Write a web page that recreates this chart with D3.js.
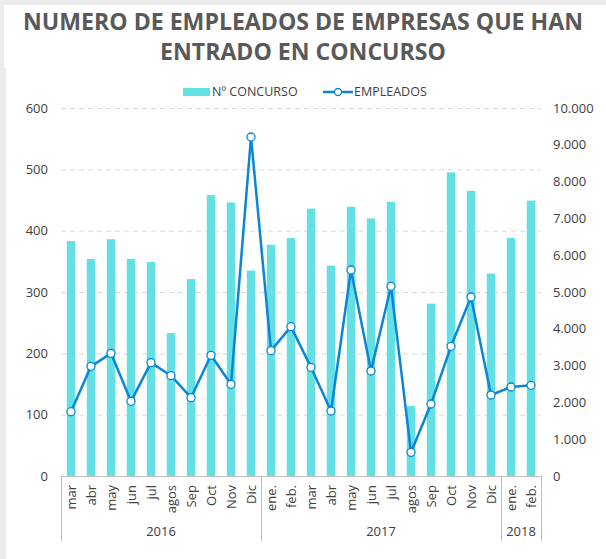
<!DOCTYPE html>
<html><head><meta charset="utf-8">
<script src="https://cdn.jsdelivr.net/npm/d3@7"></script>
<style>body{margin:0;background:#ebebeb;}svg{display:block;font-family:"Open Sans",sans-serif;}</style>
</head><body><svg id="c" width="606" height="559"></svg>
<script>
const months = ["mar","abr","may","jun","jul","agos","Sep","Oct","Nov","Dic",
  "ene.","feb.","mar","abr","may","jun","jul","agos","Sep","Oct","Nov","Dic",
  "ene.","feb."];
const years = [{label:"2016",count:10},{label:"2017",count:12},{label:"2018",count:2}];
const concursos = [383,354,386,354,349,233,321,458,446,335,
  377,388,436,343,439,420,447,114,281,495,465,330,388,449];
const empleados = [1747,2980,3333,2029,3080,2726,2128,3279,2491,9212,
  3406,4058,2953,1766,5598,2853,5154,643,1957,3524,4864,2201,2418,2465];
const leftTicks = [0,100,200,300,400,500,600];
const rightTicks = [0,1000,2000,3000,4000,5000,6000,7000,8000,9000,10000];

const svg = d3.select("#c");
const W=606,H=559;
const m={l:61,r:541,t:108,b:476};
const barColor="#62e0e3", lineColor="#0a86d6", txt="#595959", lab="#404040";

svg.append("rect").attr("x",0).attr("y",0).attr("width",W).attr("height",H).attr("fill","#ebebeb");
svg.append("rect").attr("x",4).attr("y",5).attr("width",602).attr("height",63).attr("fill","#fff");
svg.append("rect").attr("x",6).attr("y",68).attr("width",600).attr("height",491).attr("fill","#fff");

// title
const tl = ["NUMERO DE EMPLEADOS DE EMPRESAS QUE HAN","ENTRADO EN CONCURSO"];
const t1 = svg.append("text").attr("x",303).attr("y",29.5).attr("text-anchor","middle")
  .attr("font-size",22).attr("font-weight","bold").attr("fill",txt).text(tl[0]);
const w1 = t1.node().getComputedTextLength();
const fs = 22*560/w1;
t1.attr("font-size",fs);
svg.append("text").attr("x",303).attr("y",60).attr("text-anchor","middle")
  .attr("font-size",fs).attr("font-weight","bold").attr("fill",txt).text(tl[1]);

const x = d3.scaleBand().domain(d3.range(months.length)).range([m.l,m.r]).paddingInner(0.58).paddingOuter(0.29);
const yL = d3.scaleLinear().domain([0,600]).range([m.b,m.t]);
const yR = d3.scaleLinear().domain([0,10000]).range([m.b,m.t]);
const xc = i => x(i)+x.bandwidth()/2;

// grid
svg.append("g").selectAll("line").data(leftTicks.filter(d=>d>0)).join("line")
  .attr("x1",m.l).attr("x2",m.r).attr("y1",d=>yL(d)+0.5).attr("y2",d=>yL(d)+0.5)
  .attr("stroke","#d9d9d9").attr("stroke-width",1).attr("stroke-dasharray","5,4");

// axis labels
const fmt = d3.formatLocale({decimal:",",thousands:".",grouping:[3],currency:["",""]}).format(",d");
svg.append("g").selectAll("text").data(leftTicks).join("text")
  .attr("x",48).attr("y",d=>yL(d)).attr("dy","0.35em").attr("text-anchor","end")
  .attr("font-size",13).attr("fill",lab).text(d=>d);
svg.append("g").selectAll("text").data(rightTicks).join("text")
  .attr("x",553).attr("y",d=>yR(d)).attr("dy","0.35em").attr("text-anchor","start")
  .attr("font-size",13).attr("fill",lab).text(d=>fmt(d));

// bars
svg.append("g").selectAll("rect").data(concursos).join("rect")
  .attr("x",(d,i)=>x(i)).attr("width",x.bandwidth())
  .attr("y",d=>yL(d)).attr("height",d=>yL(0)-yL(d)).attr("fill",barColor);

// x axis
const ax = svg.append("g").attr("stroke","#bfbfbf").attr("stroke-width",1);
ax.append("line").attr("x1",m.l).attr("x2",m.r).attr("y1",m.b+0.5).attr("y2",m.b+0.5);
let acc=0; const bounds=[0];
years.forEach(y=>{acc+=y.count;bounds.push(acc);});
const step = x.step();
const bx = k => m.l + k*step;
ax.selectAll("line.d").data(bounds).join("line").attr("class","d")
  .attr("x1",k=>Math.round(bx(k))+0.5).attr("x2",k=>Math.round(bx(k))+0.5).attr("y1",m.b).attr("y2",541);

svg.append("g").selectAll("text").data(months).join("text")
  .attr("transform",(d,i)=>`translate(${xc(i)},485) rotate(-90)`)
  .attr("text-anchor","end").attr("dy","0.35em")
  .attr("font-size",13).attr("fill",lab).text(d=>d);
svg.append("g").selectAll("text").data(years).join("text")
  .attr("x",(d,i)=>(bx(bounds[i])+bx(bounds[i+1]))/2).attr("y",531).attr("dy","0.35em")
  .attr("text-anchor","middle").attr("font-size",13).attr("fill",lab).text(d=>d.label);

// line
svg.append("path").datum(empleados)
  .attr("d",d3.line().x((d,i)=>xc(i)).y(d=>yR(d)))
  .attr("fill","none").attr("stroke",lineColor).attr("stroke-width",2.5).attr("stroke-linejoin","round");
svg.append("g").selectAll("circle").data(empleados).join("circle")
  .attr("cx",(d,i)=>xc(i)).attr("cy",d=>yR(d)).attr("r",4)
  .attr("fill","#fff").attr("stroke",lineColor).attr("stroke-width",1.3);

// legend
const lg = svg.append("g");
lg.append("rect").attr("x",183).attr("y",88).attr("width",27).attr("height",8).attr("fill",barColor);
lg.append("text").attr("x",212).attr("y",92).attr("dy","0.35em").attr("font-size",12.5).attr("fill",lab).text("Nº CONCURSO");
lg.append("line").attr("x1",323).attr("x2",353).attr("y1",92).attr("y2",92).attr("stroke",lineColor).attr("stroke-width",2.5);
lg.append("circle").attr("cx",338).attr("cy",92).attr("r",3.5).attr("fill","#fff").attr("stroke",lineColor).attr("stroke-width",1.3);
lg.append("text").attr("x",354).attr("y",92).attr("dy","0.35em").attr("font-size",12.5).attr("fill",lab).text("EMPLEADOS");
</script></body></html>
